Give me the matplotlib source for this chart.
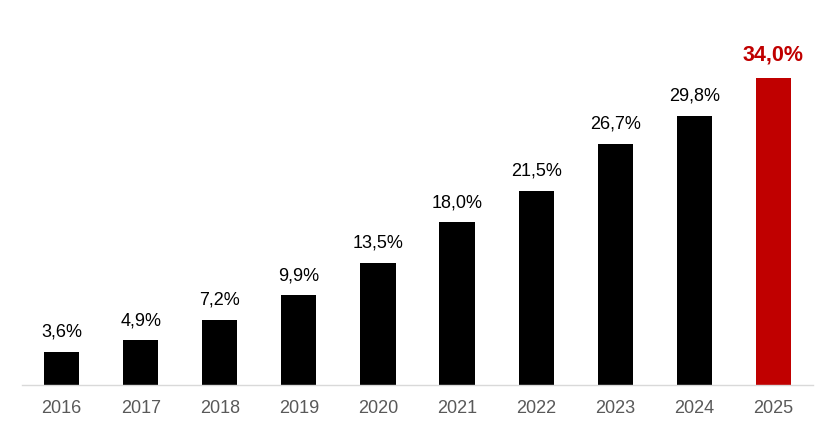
import matplotlib.pyplot as plt

plt.rcParams['font.family'] = ['Liberation Sans', 'DejaVu Sans']

years = ['2016', '2017', '2018', '2019', '2020', '2021', '2022', '2023', '2024', '2025']
shares = [3.6, 4.9, 7.2, 9.9, 13.5, 18.0, 21.5, 26.7, 29.8, 34.0]

black = '#000000'
red = '#C00000'
colors = [black] * (len(years) - 1) + [red]

fig = plt.figure(figsize=(8.36, 4.32), dpi=100)
# axes spans x 22..813 px, baseline at y=384.5 px
ax = fig.add_axes([22 / 836, 47.5 / 432, 791 / 836, 384.5 / 432])

x = list(range(len(years)))
ax.bar(x, shares, width=0.445, color=colors)

for i, v in enumerate(shares):
    lbl = f'{v:.1f}%'.replace('.', ',')
    if i == len(shares) - 1:
        ax.annotate(lbl, (i, v), xytext=(0, 9), textcoords='offset points',
                    ha='center', va='bottom', fontsize=15.5, fontweight='bold', color=red)
    else:
        ax.annotate(lbl, (i, v), xytext=(0, 8), textcoords='offset points',
                    ha='center', va='bottom', fontsize=13, color=black)

ax.set_xlim(-0.5, len(years) - 0.5)
ax.set_ylim(0, 384.5 / 9.02)
ax.set_xticks(x)
ax.set_xticklabels(years, fontsize=13, color='#595959')
ax.tick_params(axis='x', length=0, pad=11)
ax.set_yticks([])

for s in ['top', 'right', 'left']:
    ax.spines[s].set_visible(False)
ax.spines['bottom'].set_color('#D9D9D9')
ax.spines['bottom'].set_linewidth(1.0)

fig.savefig('out.png', dpi=100)
